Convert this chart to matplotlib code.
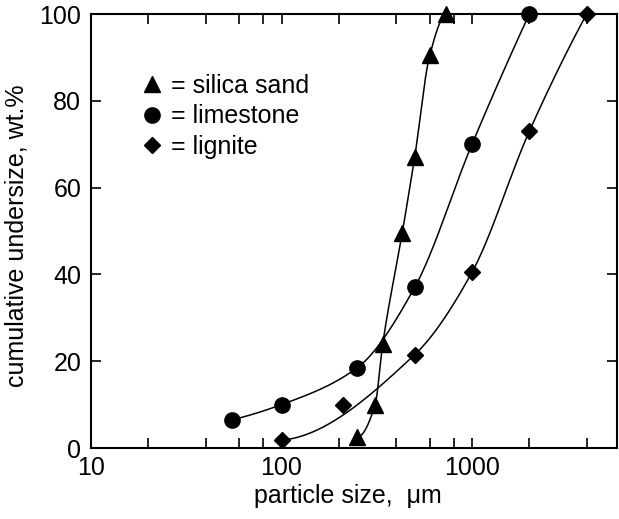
import numpy as np
import matplotlib
matplotlib.use("Agg")
import matplotlib.pyplot as plt
from matplotlib.ticker import LogLocator, FixedLocator, NullFormatter, FixedFormatter
from matplotlib.lines import Line2D

plt.rcParams['font.family'] = ['Liberation Sans', 'DejaVu Sans']

# ---- data ----
silica_x = [250, 310, 340, 430, 500, 600, 730]
silica_y = [2.5, 10, 24, 49.5, 67, 90.5, 100]

limestone_x = [55, 100, 250, 500, 1000, 2000]
limestone_y = [6.5, 10, 18.5, 37, 70, 100]

lignite_x = [100, 210, 500, 1000, 2000, 4000]
lignite_y = [1.8, 10, 21.5, 40.5, 73, 100]
lignite_on_curve = [True, False, True, True, True, True]

x_ticks = [10, 100, 1000]
x_ticklabels = ["10", "100", "1000"]
y_ticks = [0, 20, 40, 60, 80, 100]
legend_labels = ["= silica sand", "= limestone", "= lignite"]

FS = 18


def pchip(x, y, xn):
    x = np.asarray(x, float); y = np.asarray(y, float)
    n = len(x)
    h = np.diff(x); d = np.diff(y) / h
    m = np.zeros(n)
    for k in range(1, n - 1):
        if d[k - 1] * d[k] <= 0:
            m[k] = 0.0
        else:
            w1 = 2 * h[k] + h[k - 1]
            w2 = h[k] + 2 * h[k - 1]
            m[k] = (w1 + w2) / (w1 / d[k - 1] + w2 / d[k])
    def endslope(h0, h1, d0, d1):
        s = ((2 * h0 + h1) * d0 - h0 * d1) / (h0 + h1)
        if np.sign(s) != np.sign(d0):
            s = 0.0
        elif np.sign(d0) != np.sign(d1) and abs(s) > abs(3 * d0):
            s = 3 * d0
        return s
    m[0] = endslope(h[0], h[1], d[0], d[1])
    m[-1] = endslope(h[-1], h[-2], d[-1], d[-2])
    idx = np.clip(np.searchsorted(x, xn) - 1, 0, n - 2)
    t = (xn - x[idx]) / h[idx]
    h00 = 2 * t**3 - 3 * t**2 + 1
    h10 = t**3 - 2 * t**2 + t
    h01 = -2 * t**3 + 3 * t**2
    h11 = t**3 - t**2
    return h00 * y[idx] + h10 * h[idx] * m[idx] + h01 * y[idx + 1] + h11 * h[idx] * m[idx + 1]


def smooth(xs, ys):
    lx = np.log10(xs)
    grid = np.linspace(lx[0], lx[-1], 300)
    return 10 ** grid, pchip(lx, ys, grid)


fig = plt.figure(figsize=(6.19, 5.19), dpi=100)
ax = fig.add_axes([0.147, 0.1368, 0.8498, 0.8362])

lw = 1.1
# curves
cx, cy = smooth(silica_x, silica_y)
ax.plot(cx, cy, color='black', lw=lw)
cx, cy = smooth(limestone_x, limestone_y)
ax.plot(cx, cy, color='black', lw=lw)
lx_fit = [v for v, k in zip(lignite_x, lignite_on_curve) if k]
ly_fit = [v for v, k in zip(lignite_y, lignite_on_curve) if k]
cx, cy = smooth(lx_fit, ly_fit)
ax.plot(cx, cy, color='black', lw=lw)

# markers
ax.plot(silica_x, silica_y, ls='none', marker='^', ms=11, color='black', clip_on=False, zorder=3)
ax.plot(limestone_x, limestone_y, ls='none', marker='o', ms=11, color='black', clip_on=False, zorder=3)
ax.plot(lignite_x, lignite_y, ls='none', marker='D', ms=8.5, color='black', clip_on=False, zorder=3)

ax.set_xscale('log')
ax.set_xlim(10, 5770)
ax.set_ylim(0, 100)

ax.xaxis.set_major_locator(FixedLocator(x_ticks))
ax.xaxis.set_major_formatter(FixedFormatter(x_ticklabels))
ax.xaxis.set_minor_locator(LogLocator(base=10, subs=[2, 4, 6, 8]))
ax.xaxis.set_minor_formatter(NullFormatter())
ax.yaxis.set_major_locator(FixedLocator(y_ticks))

ax.tick_params(axis='both', which='both', direction='in', top=True, right=True,
               width=1.2, labelsize=FS, colors='black')
ax.tick_params(axis='x', which='major', length=7, pad=6)
ax.tick_params(axis='x', which='minor', length=7)
ax.tick_params(axis='y', which='major', length=7, pad=7)

for s in ax.spines.values():
    s.set_linewidth(1.5)

ax.set_xlabel("particle size,  μm", fontsize=FS)
ax.xaxis.set_label_coords(0.4876, -0.083)
ax.set_ylabel("cumulative undersize, wt.%", fontsize=FS)
ax.yaxis.set_label_coords(-0.118, 0.488)

handles = [
    Line2D([], [], ls='none', marker='^', ms=11, color='black'),
    Line2D([], [], ls='none', marker='o', ms=11, color='black'),
    Line2D([], [], ls='none', marker='D', ms=8.5, color='black'),
]
ax.legend(handles, legend_labels, loc='upper left', bbox_to_anchor=(0.0975, 0.862),
          frameon=False, fontsize=FS, handlelength=0.8, handletextpad=0.34,
          labelspacing=0.26, borderpad=0, borderaxespad=0)

fig.savefig("out.png", dpi=100)
